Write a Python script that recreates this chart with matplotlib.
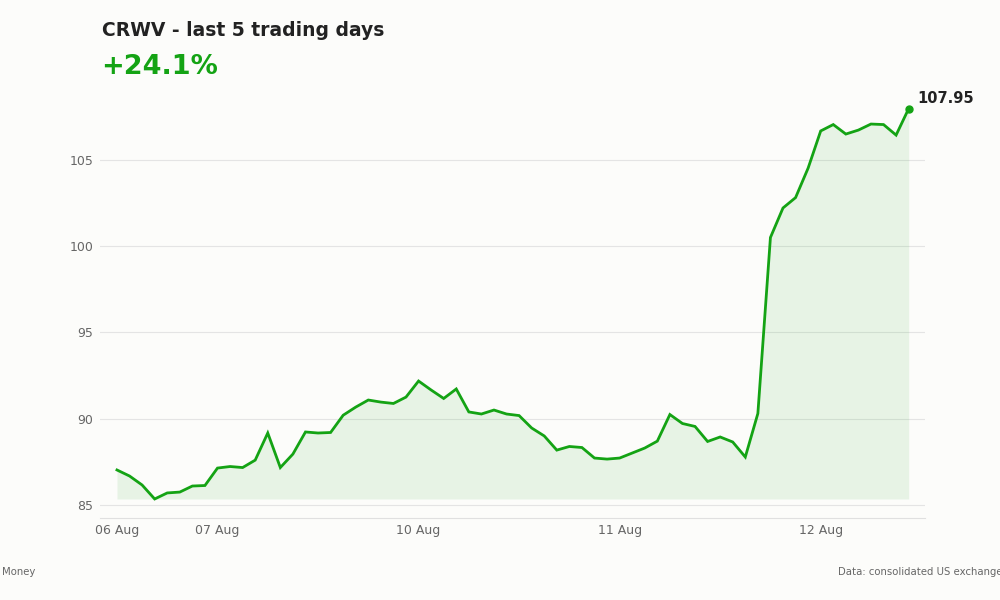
import numpy as np
import matplotlib.pyplot as plt

# CRWV intraday prices, last 5 trading days
prices = [87.03, 86.68, 86.16, 85.35, 85.70, 85.75, 86.10, 86.13,
          87.14, 87.23, 87.17, 87.60, 89.17, 87.17, 87.95, 89.23,
          89.17, 89.20, 90.20, 90.67, 91.08, 90.96, 90.88, 91.25,
          92.18, 91.66, 91.17, 91.72, 90.39, 90.27, 90.50, 90.27,
          90.18, 89.46, 89.00, 88.18, 88.39, 88.33, 87.72, 87.66,
          87.72, 88.01, 88.30, 88.70, 90.24, 89.72, 89.55, 88.68,
          88.94, 88.65, 87.78, 90.30, 100.49, 102.20, 102.80, 104.51,
          106.66, 107.03, 106.48, 106.71, 107.06, 107.03, 106.42, 107.95]
tick_idx = [0, 8, 24, 40, 56]
tick_labels = ['06 Aug', '07 Aug', '10 Aug', '11 Aug', '12 Aug']
y_ticks = [85, 90, 95, 100, 105]

green = '#14a314'
bg = '#fcfcfa'

x = np.arange(len(prices))
y = np.array(prices)

fig = plt.figure(figsize=(10, 6), dpi=100, facecolor=bg)
ax = fig.add_axes([0.10, 0.1367, 0.825, 0.6983])
ax.set_facecolor(bg)

ax.fill_between(x, y, y.min(), color=green, alpha=0.09, linewidth=0)
ax.plot(x, y, color=green, linewidth=2.0, solid_joinstyle='miter')
ax.plot(x[-1], y[-1], 'o', color=green, markersize=5)
ax.annotate(f'{y[-1]:.2f}', (x[-1], y[-1]), xytext=(6, 2), textcoords='offset points',
            fontsize=10.5, fontweight='bold', color='#222222', va='bottom', ha='left')

ax.set_xlim(-1.35, 64.3)
ax.set_ylim(84.25, 108.51)
ax.set_xticks(tick_idx)
ax.set_xticklabels(tick_labels)
ax.set_yticks(y_ticks)
ax.grid(axis='y', color='#e4e4e4', linewidth=0.8)
ax.set_axisbelow(True)
for s in ['top', 'right', 'left']:
    ax.spines[s].set_visible(False)
ax.spines['bottom'].set_color('#e0e0e0')
ax.tick_params(length=0, labelsize=9, colors='#666666', pad=4)
ax.tick_params(axis='y', pad=5)

fig.text(0.102, 0.95, 'CRWV - last 5 trading days', fontsize=13.5, fontweight='bold',
         color='#222222', va='center')
fig.text(0.101, 0.888, '+24.1%', fontsize=19.5, fontweight='bold', color=green, va='center')

# footer (the source line runs past the right edge, as in the original)
fig.text(0.002, 0.046, 'Money', fontsize=7.3, color='#666666', va='center')
fig.text(0.838, 0.046, 'Data: consolidated US exchange data', fontsize=7.3,
         color='#666666', va='center')

fig.savefig('out.png', dpi=100, facecolor=bg)
